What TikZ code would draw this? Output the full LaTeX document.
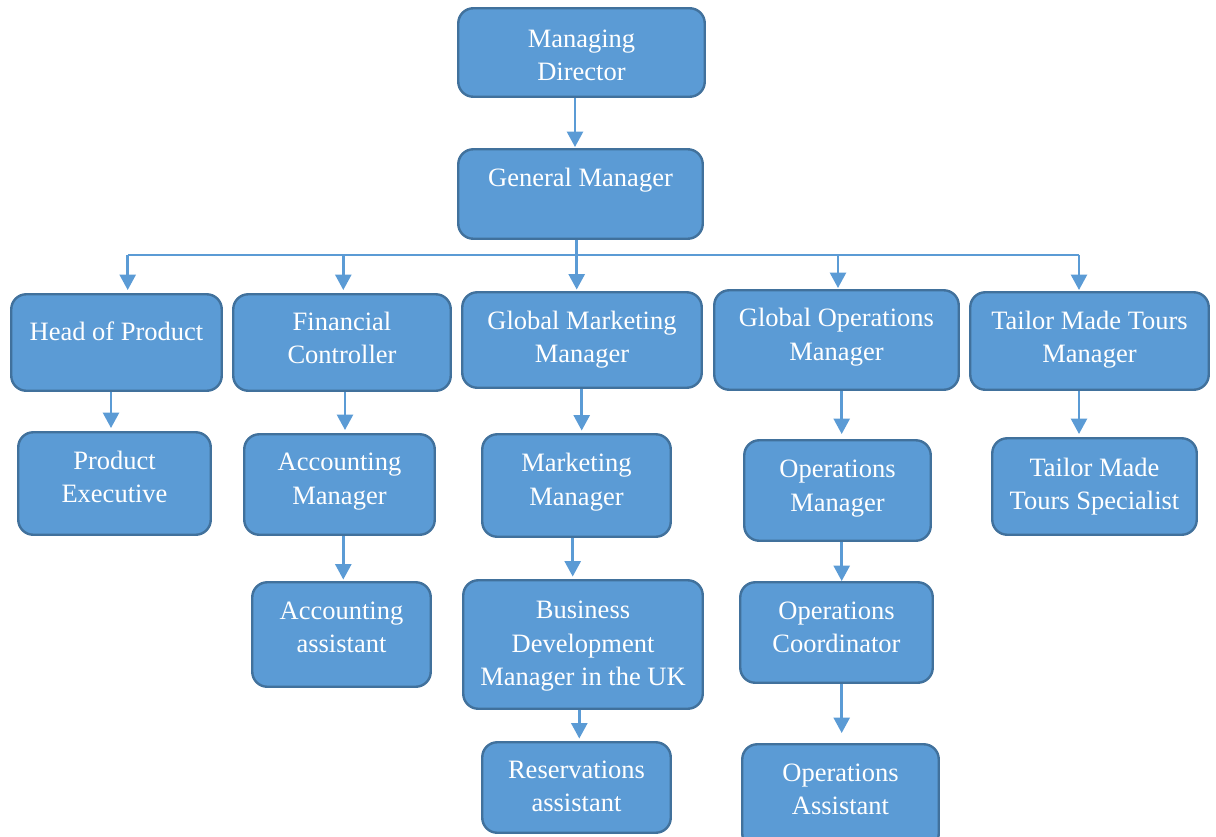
\documentclass[tikz,border=0pt]{standalone}
\usepackage{fontspec}
\setmainfont{Liberation Serif}
\usetikzlibrary{arrows.meta}
\definecolor{boxfill}{HTML}{5B9BD5}
\definecolor{boxline}{HTML}{41719C}
\definecolor{arrcol}{HTML}{5B9BD5}
\tikzset{
  orgbox/.style={draw=boxline, fill=boxfill, line width=2.4pt, rounded corners=15pt, inner sep=0pt},
  orgtxt/.style={text=white, anchor=north, align=center, inner sep=0pt, font=\fontsize{26.5}{33.3}\selectfont},
  arr/.style={draw=arrcol, line width=2.7pt, -{Triangle[length=15.5pt,width=16pt]}},
  busline/.style={draw=arrcol, line width=1.1pt}
}
\newcommand{\orgnode}[6]{%
  \node[orgbox, minimum width=#4pt, minimum height=#5pt] (#1) at (#2,#3) {};
}
\begin{document}
\begin{tikzpicture}[x=1pt,y=-1pt]
\useasboundingbox (0,0) rectangle (1216,836);
\begin{scope}
\clip (0,0) rectangle (1216,836);
% boxes: name, cx, cy, w, h
\orgnode{md}{581.5}{52.5}{246.5}{88.5}{}
\orgnode{gm}{580.5}{194}{244.5}{89.5}{}
\orgnode{hop}{116.5}{342.5}{210.5}{96.5}{}
\orgnode{fc}{342}{342.5}{217.5}{96.5}{}
\orgnode{gmm}{582}{340}{239.5}{95.5}{}
\orgnode{gom}{836.5}{340}{244.5}{99.5}{}
\orgnode{tmtm}{1089.5}{341}{238.5}{97.5}{}
\orgnode{pe}{114.5}{483.5}{192.5}{102.5}{}
\orgnode{am}{339.5}{484.5}{190.5}{100.5}{}
\orgnode{mm}{576.5}{485.5}{188.5}{102.5}{}
\orgnode{om}{837.5}{490.5}{186.5}{100.5}{}
\orgnode{tmts}{1094.5}{486.5}{204.5}{96.5}{}
\orgnode{aa}{341.5}{634.5}{178.5}{104.5}{}
\orgnode{bdm}{583}{644.5}{239.5}{128.5}{}
\orgnode{oc}{836.5}{632.5}{192.5}{100.5}{}
\orgnode{ra}{576.5}{787.5}{188.5}{90.5}{}
\orgnode{oa}{840.5}{796.5}{196.5}{104.5}{}
\end{scope}
% texts
\node[orgtxt] (tmd) at (581.5,23.7) {\strut Managing\\\strut Director};
\node[orgtxt] (tgm) at (580.5,163.4) {\strut General Manager};
\node[orgtxt] (thop) at (116.5,316.7) {\strut Head of Product};
\node[orgtxt] (tfc) at (342,306.7) {\strut Financial\\\strut Controller};
\node[orgtxt] (tgmm) at (582,306) {\strut Global Marketing\\\strut Manager};
\node[orgtxt] (tgom) at (836.5,303.4) {\strut Global Operations\\\strut Manager};
\node[orgtxt] (ttmtm) at (1089.5,305.7) {\strut Tailor Made Tours\\\strut Manager};
\node[orgtxt] (tpe) at (114.5,445.7) {\strut Product\\\strut Executive};
\node[orgtxt] (tam) at (339.5,447.4) {\strut Accounting\\\strut Manager};
\node[orgtxt] (tmm) at (576.5,448.4) {\strut Marketing\\\strut Manager};
\node[orgtxt] (tom) at (837.5,454.4) {\strut Operations\\\strut Manager};
\node[orgtxt] (ttmts) at (1094.5,452.7) {\strut Tailor Made\\\strut Tours Specialist};
\node[orgtxt] (taa) at (341.5,596) {\strut Accounting\\\strut assistant};
\node[orgtxt] (tbdm) at (583,595.4) {\strut Business\\\strut Development\\\strut Manager in the UK};
\node[orgtxt] (toc) at (836.5,596) {\strut Operations\\\strut Coordinator};
\node[orgtxt] (tra) at (576.5,755) {\strut Reservations\\\strut assistant};
\node[orgtxt] (toa) at (840.5,757.7) {\strut Operations\\\strut Assistant};
% connector x positions
\coordinate (xmd) at (575,0);
\coordinate (xgm) at (576.7,0);
\coordinate (xhop) at (111,0);
\coordinate (xfc) at (345,0);
\coordinate (xgmm) at (581.7,0);
\coordinate (xgom) at (841.7,0);
\coordinate (xtm) at (1079,0);
\coordinate (xam) at (343.3,0);
\coordinate (xmm) at (572.7,0);
\coordinate (xbdm) at (579.3,0);
% bus
\coordinate (b1) at (127.7,255);
\coordinate (b2) at (343.3,255);
\coordinate (b4) at (838,255);
\coordinate (b5) at (1079,255);
\draw[busline] (b1) -- (b5);
\draw[arr, shorten >=3pt] (b1) -- (b1 |- hop.north);
\draw[arr, shorten >=3pt] (b2) -- (b2 |- fc.north);
\draw[arr, shorten >=1pt] (b4) -- (b4 |- gom.north);
\draw[arr, shorten >=1pt] (b5) -- (b5 |- tmtm.north);
% vertical connectors
\draw[arr, shorten >=1pt] (md.south -| xmd) -- (gm.north -| xmd);
\draw[arr, shorten >=1.5pt] (gm.south -| xgm) -- (gmm.north -| xgm);
\draw[arr, shorten >=3pt] (hop.south -| xhop) -- (pe.north -| xhop);
\draw[arr, shorten >=3pt] (fc.south -| xfc) -- (am.north -| xfc);
\draw[arr, shorten >=2.5pt] (gmm.south -| xgmm) -- (mm.north -| xgmm);
\draw[arr, shorten >=5pt] (gom.south -| xgom) -- (om.north -| xgom);
\draw[arr, shorten >=3pt] (tmtm.south -| xtm) -- (tmts.north -| xtm);
\draw[arr, shorten >=1.5pt] (am.south -| xam) -- (aa.north -| xam);
\draw[arr, shorten >=2.5pt] (mm.south -| xmm) -- (bdm.north -| xmm);
\draw[arr, shorten >=2.5pt] (bdm.south -| xbdm) -- (ra.north -| xbdm);
\draw[arr, shorten >=0pt] (om.south -| xgom) -- (oc.north -| xgom);
\draw[arr, shorten >=10pt] (oc.south -| xgom) -- (oa.north -| xgom);
\end{tikzpicture}
\end{document}
